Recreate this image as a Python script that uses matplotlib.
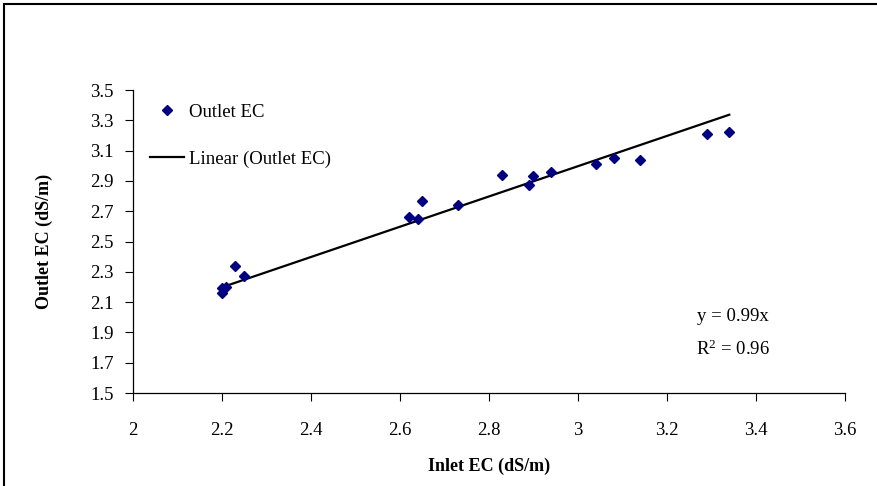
import numpy as np
import matplotlib.pyplot as plt
from matplotlib.patches import Rectangle

# valores
inlet_ec = [2.20, 2.20, 2.21, 2.23, 2.25, 2.62, 2.64, 2.65, 2.73,
            2.83, 2.89, 2.90, 2.94, 3.04, 3.08, 3.14, 3.29, 3.34]
outlet_ec = [2.16, 2.19, 2.20, 2.34, 2.27, 2.66, 2.65, 2.77, 2.74,
             2.94, 2.87, 2.93, 2.96, 3.01, 3.05, 3.04, 3.21, 3.22]
x_ticks = [2, 2.2, 2.4, 2.6, 2.8, 3, 3.2, 3.4, 3.6]
y_ticks = [1.5, 1.7, 1.9, 2.1, 2.3, 2.5, 2.7, 2.9, 3.1, 3.3, 3.5]
ecuacion = 'y = 0.99x'
r2 = 0.96

plt.rcParams['font.family'] = ['Liberation Serif', 'DejaVu Serif']

x = np.array(inlet_ec)
y = np.array(outlet_ec)
# tendencia lineal por el origen
pendiente = np.sum(x * y) / np.sum(x * x)
xl = np.array([x.min(), x.max()])

fig = plt.figure(figsize=(8.78, 4.86), dpi=100)
ax = fig.add_axes([133 / 878, 1 - 393 / 486, (845 - 133) / 878, (393 - 90) / 486])

ax.plot(x, y, 'D', color='#000080', markersize=5, label='Outlet EC', zorder=3)
ax.plot(xl, pendiente * xl, color='black', lw=1.6, label='Linear (Outlet EC)')

ax.set_xlim(2, 3.6)
ax.set_ylim(1.5, 3.5)
ax.set_xticks(x_ticks)
ax.set_xticklabels(['2', '2.2', '2.4', '2.6', '2.8', '3', '3.2', '3.4', '3.6'])
ax.set_yticks(y_ticks)
ax.set_yticklabels([f'{v:.1f}' for v in y_ticks])
ax.tick_params(direction='out', length=6, width=0.8, labelsize=13.5, pad=15, axis='x')
ax.tick_params(direction='out', length=6, width=0.8, labelsize=13.5, pad=8, axis='y')
ax.spines['top'].set_visible(False)
ax.spines['right'].set_visible(False)
for s in ['left', 'bottom']:
    ax.spines[s].set_linewidth(0.9)

ax.set_xlabel('Inlet EC (dS/m)', fontsize=13, fontweight='bold', labelpad=13)
ax.set_ylabel('Outlet EC (dS/m)', fontsize=13, fontweight='bold', labelpad=27)

ax.legend(loc='upper left', frameon=False, fontsize=13.5, labelspacing=1.6,
          handlelength=1.8, handletextpad=0.3, borderaxespad=0,
          bbox_to_anchor=(0.013, 0.98))

ax.text(0.843, 0.254, ecuacion, transform=ax.transAxes,
        ha='center', va='center', fontsize=13.5)
ax.text(0.843, 0.145, f'R$\\mathregular{{^2}}$ = {r2:.2f}', transform=ax.transAxes,
        ha='center', va='center', fontsize=13.5)

# marco del area del grafico
fig.patches.append(Rectangle((4 / 878, -0.1), 1.2, 1 - 4 / 486 + 0.1,
                             transform=fig.transFigure, fill=False,
                             edgecolor='black', lw=1.5))

fig.savefig('out.png', dpi=100)
